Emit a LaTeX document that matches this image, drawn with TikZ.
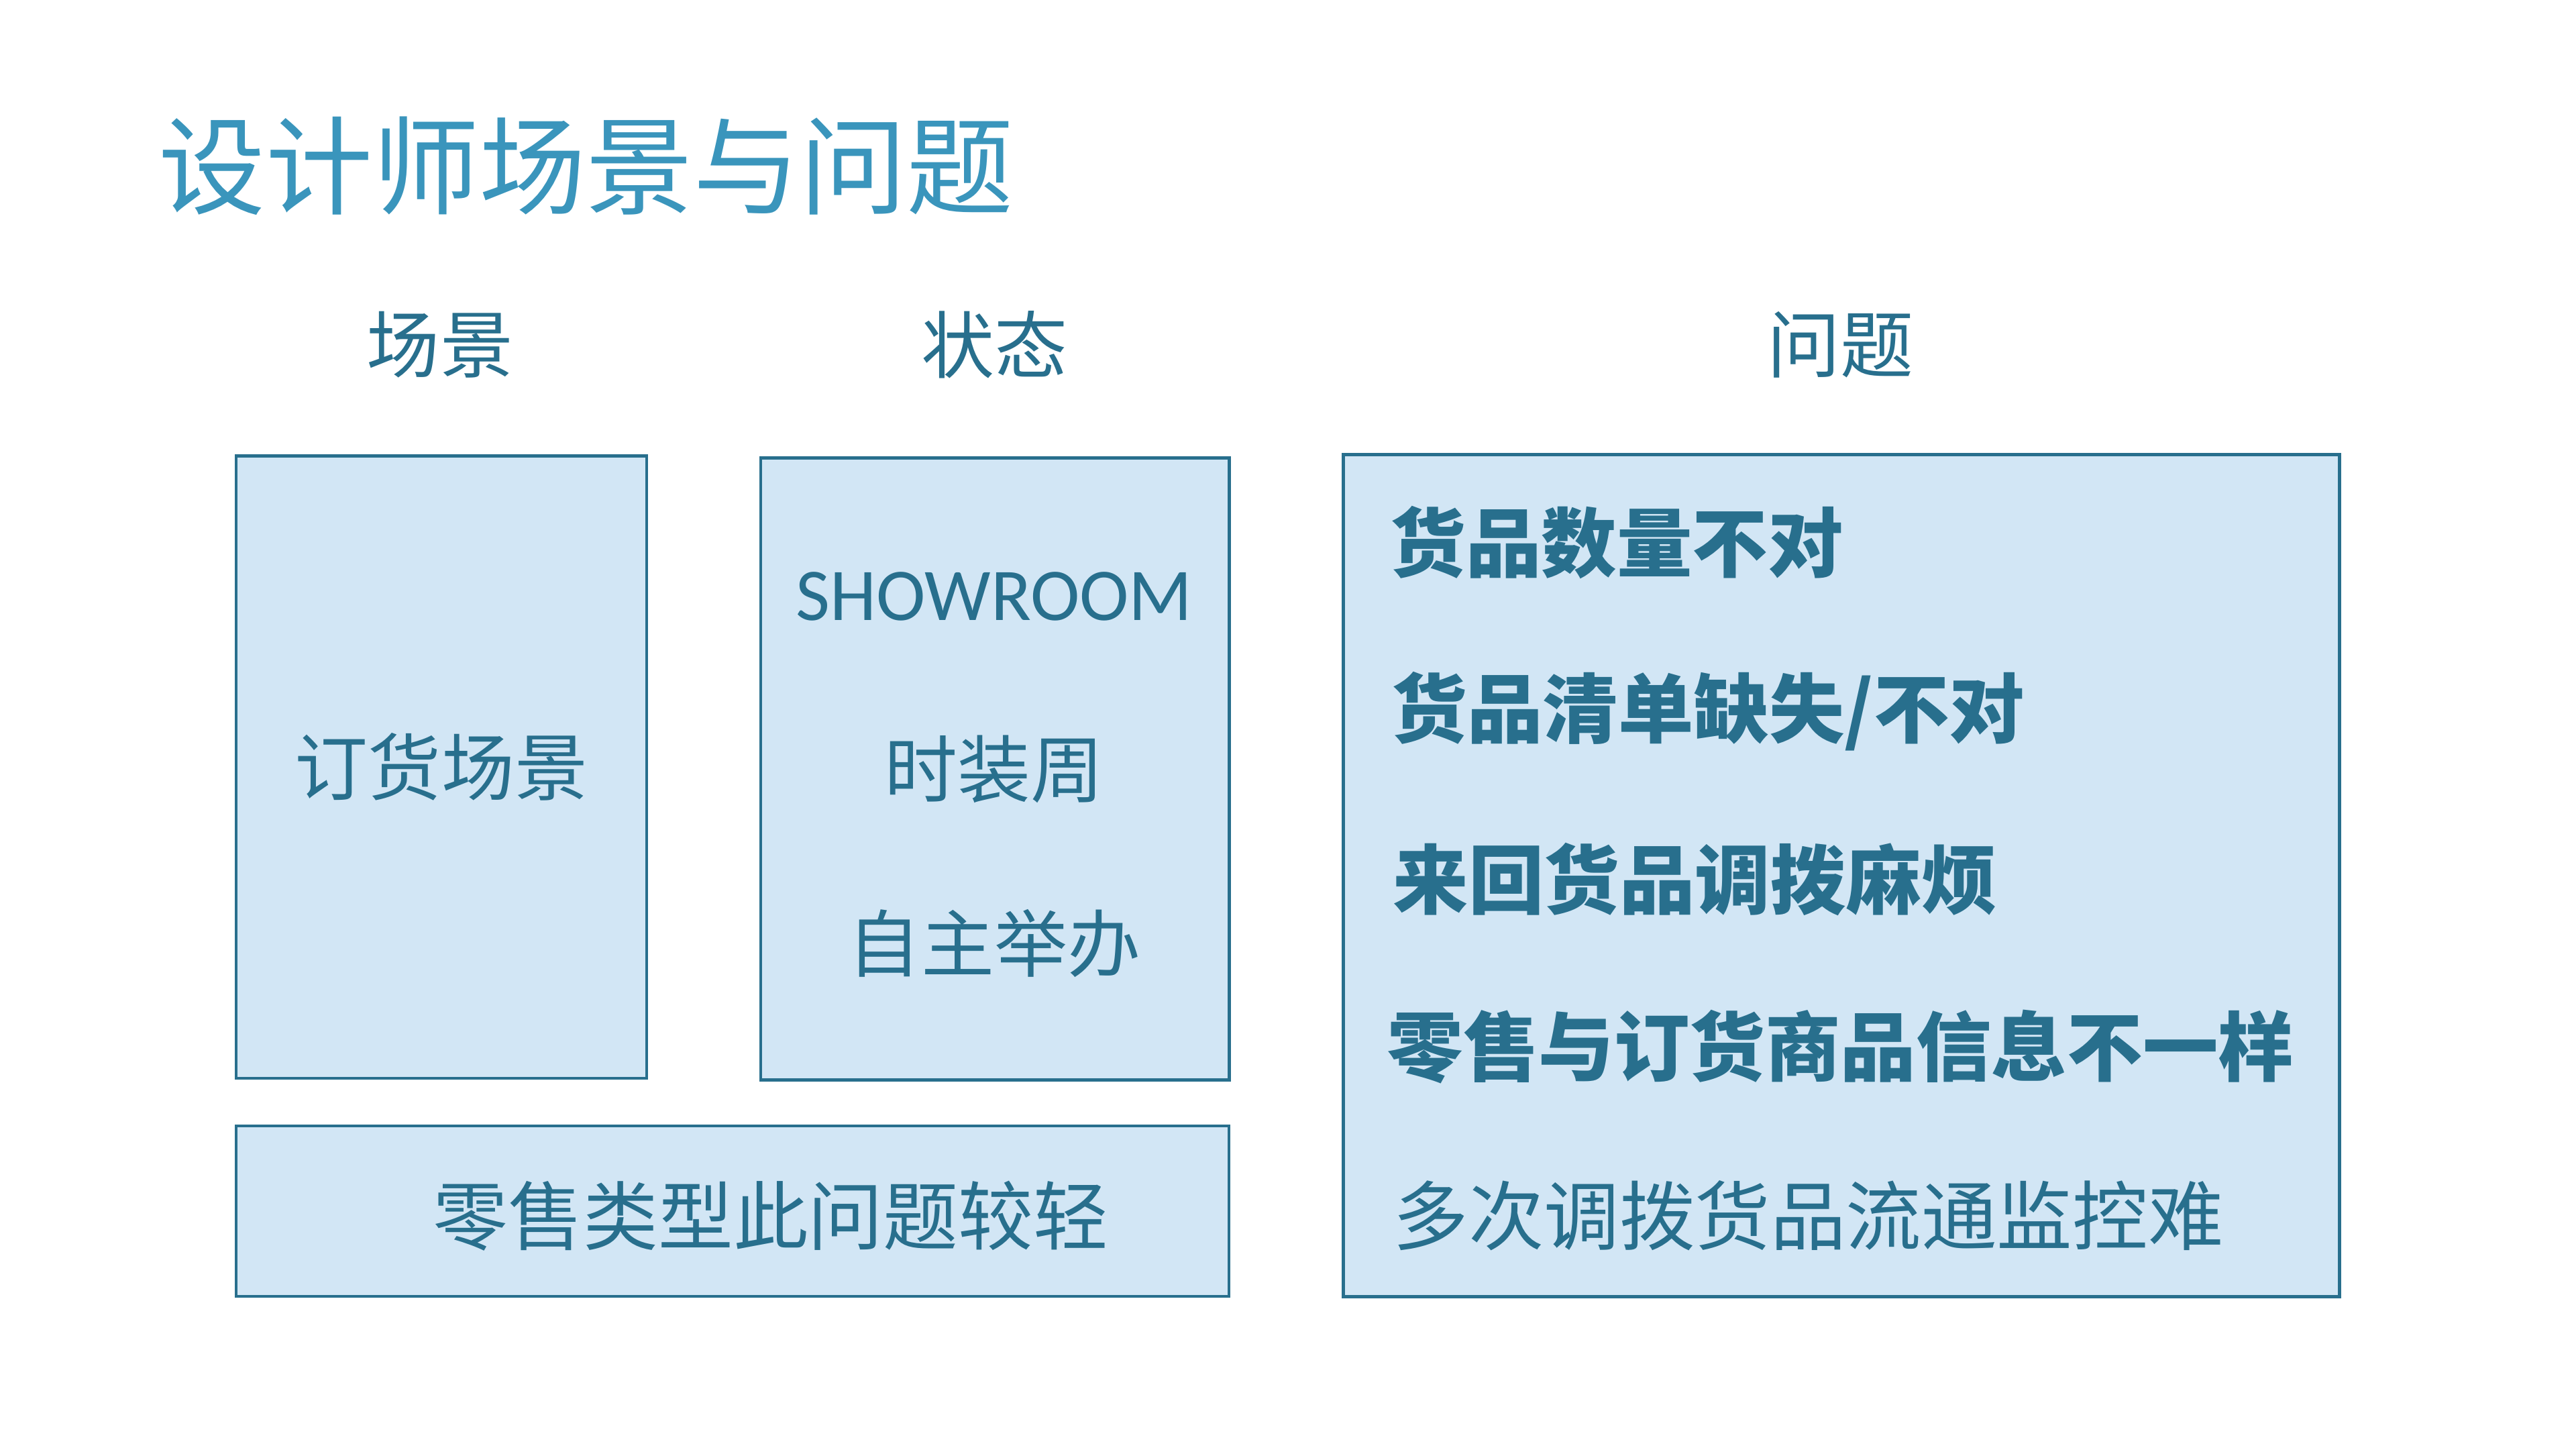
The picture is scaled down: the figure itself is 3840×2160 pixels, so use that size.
\documentclass[tikz,border=0pt]{standalone}
\usepackage{fontspec}
\newfontfamily\cjk{Noto Sans CJK SC}
\newfontfamily\latin{Carlito}
\usetikzlibrary{positioning}
\definecolor{titleblue}{HTML}{3A95BC}
\definecolor{inkblue}{HTML}{286F8D}
\definecolor{paleblue}{HTML}{D2E6F5}

\begin{document}
\begin{tikzpicture}[x=0.01cm, y=-0.01cm,
  panel/.style={draw=inkblue, line width=1.3pt, fill=paleblue, inner sep=0pt},
  heading/.style={text=inkblue, font=\cjk\fontsize{31}{36}\selectfont, inner sep=0pt},
  item/.style={text=inkblue, font=\cjk\fontsize{31}{36}\selectfont, inner sep=0pt},
  issue/.style={item, anchor=west, font=\cjk\bfseries\fontsize{32}{36}\selectfont}
]
\useasboundingbox (0,0) rectangle (3840,2160);

% Title
\node[anchor=west, inner sep=0pt, text=titleblue,
      font=\cjk\fontsize{45.3}{50}\selectfont] (title) at (236,247) {设计师场景与问题};

% Column headings
\node[heading] (hscene) at (656,514) {场景};
\node[heading] (hstate) at (1482,514) {状态};
\node[heading] (hissue) at (2743,514) {问题};

% Scene
\node[panel, minimum width=6.12cm, minimum height=9.27cm] (scene) at (658,1143) {};
\node[item] (order) at (scene.center) {订货场景};

% State
\node[panel, minimum width=6.98cm, minimum height=9.26cm] (state) at (1483,1146) {};
\node[item, font=\latin\fontsize{31.5}{36}\selectfont] (showroom) at (1482,889) {SHOWROOM};
\node[item] (fashion) at (1482,1146) {时装周};
\node[item] (self) at (1482,1406) {自主举办};

% Retail
\node[panel, minimum width=14.79cm, minimum height=2.54cm] (retail) at (1092,1805) {};
\node[item, font=\cjk\fontsize{31.8}{36}\selectfont] (retailtxt) at (1149,1812) {零售类型此问题较轻};

% Issues
\node[panel, minimum width=14.84cm, minimum height=12.54cm] (issues) at (2745,1305) {};
\node[issue] (i1) at (2072,808) {货品数量不对};
\node[issue] (i2) at (2074,1060) {货品清单缺失/不对};
\node[issue] (i3) at (2076,1310) {来回货品调拨麻烦};
\node[issue] (i4) at (2068,1560) {零售与订货商品信息不一样};
\node[issue, font=\cjk\fontsize{32}{36}\selectfont] (i5) at (2076,1812) {多次调拨货品流通监控难};
\end{tikzpicture}
\end{document}
